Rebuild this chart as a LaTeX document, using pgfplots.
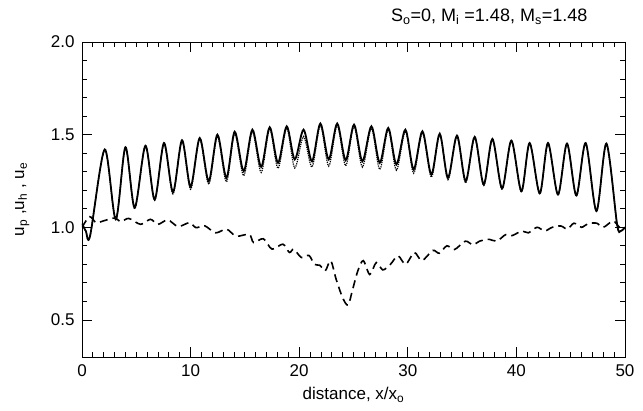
\documentclass[border=0pt]{standalone}
\usepackage{fontspec}
\setmainfont{Liberation Sans}
\usepackage{pgfplots}
\pgfplotsset{compat=1.18}

\pgfplotstableread{
x y
0 1.02
0.35 0.98
0.75 0.955
2.09 1.42
3.11 1.043
4.0 1.432
4.85 1.106
5.84 1.44
6.69 1.15
7.55 1.455
8.38 1.19
9.21 1.47
10.0 1.219
10.84 1.482
11.67 1.249
12.47 1.5
13.3 1.267
14.06 1.516
14.89 1.303
15.69 1.527
16.5 1.326
17.28 1.54
18.05 1.348
18.85 1.545
19.59 1.366
20.4 1.527
21.18 1.356
21.95 1.56
22.72 1.366
23.5 1.56
24.28 1.362
25.05 1.554
25.82 1.356
26.65 1.545
27.42 1.348
28.2 1.536
28.95 1.339
29.78 1.527
30.54 1.312
31.35 1.518
32.17 1.285
32.94 1.505
33.7 1.267
34.53 1.495
35.33 1.249
36.16 1.488
36.99 1.231
37.79 1.477
38.68 1.21
39.54 1.468
40.46 1.195
41.22 1.455
42.15 1.183
42.91 1.455
43.83 1.177
44.66 1.452
45.52 1.172
46.38 1.455
47.37 1.088
48.29 1.452
49.27 1.016
49.6 0.98
50 1.0
}\up

\pgfplotstableread{
x y
0 1.02
0.35 0.98
0.75 0.955
2.09 1.42
3.11 1.043
4.0 1.43
4.85 1.10
5.84 1.44
6.69 1.145
7.55 1.45
8.38 1.18
9.21 1.465
10.0 1.205
10.84 1.475
11.67 1.232
12.47 1.49
13.3 1.245
14.06 1.505
14.89 1.278
15.69 1.515
16.5 1.296
17.28 1.53
18.05 1.318
18.85 1.535
19.59 1.32
20.4 1.49
21.18 1.325
21.95 1.55
22.72 1.33
23.5 1.55
24.28 1.332
25.05 1.545
25.82 1.325
26.65 1.535
27.42 1.312
28.2 1.527
28.95 1.308
29.78 1.518
30.54 1.292
31.35 1.51
32.17 1.27
32.94 1.498
33.7 1.257
34.53 1.49
35.33 1.24
36.16 1.483
36.99 1.225
37.79 1.472
38.68 1.205
39.54 1.465
40.46 1.19
41.22 1.452
42.15 1.18
42.91 1.452
43.83 1.174
44.66 1.45
45.52 1.168
46.38 1.452
47.37 1.085
48.29 1.45
49.27 1.016
49.6 0.98
50 1.0
}\uh

\pgfplotstableread{
x y
0.0 1.00
0.7 1.057
1.3 1.025
2.0 1.035
3.0 1.05
3.6 1.03
4.3 1.048
5.4 1.016
6.3 1.043
7.0 1.016
7.9 1.04
8.85 1.004
9.9 1.025
10.5 0.998
11.3 1.008
12.3 0.97
13.3 0.99
14.2 0.952
15.4 0.962
15.8 0.918
16.7 0.938
17.5 0.882
18.5 0.909
19.1 0.864
19.5 0.882
20.2 0.837
20.9 0.848
21.4 0.80
21.9 0.795
22.4 0.765
22.9 0.82
23.4 0.72
24.0 0.62
24.5 0.58
24.9 0.66
25.4 0.765
25.9 0.82
26.5 0.745
27.1 0.81
27.7 0.77
28.4 0.80
29.1 0.846
29.8 0.80
30.6 0.864
31.3 0.82
32.3 0.875
32.9 0.86
33.6 0.90
34.3 0.88
35.3 0.925
36.0 0.905
36.6 0.925
37.5 0.935
38.2 0.925
39.0 0.96
39.6 0.955
40.5 0.98
41.1 0.97
41.9 1.0
42.6 0.98
43.3 1.0
44.1 1.007
44.7 0.99
45.3 1.022
46.0 1.0
46.6 1.02
47.4 1.022
48.0 1.0
48.9 1.034
49.5 1.0
50 1.0
}\ue

\begin{document}
\begin{tikzpicture}
\begin{axis}[
    width=543pt, height=315pt, scale only axis,
    xmin=0, xmax=50, ymin=0.3, ymax=2.0,
    xtick={0,10,20,30,40,50}, minor x tick num=9,
    ytick={0.5,1.0,1.5,2.0}, minor y tick num=4,
    tick align=inside,
    major tick length=10pt, minor tick length=5pt,
    tick style={black, line width=0.8pt},
    axis line style={line width=0.9pt},
    /pgf/number format/assume math mode=true,
    yticklabel style={xshift=-4pt, /pgf/number format/.cd, fixed, fixed zerofill, precision=1},
    xticklabel style={yshift=-4pt},
    tick label style={font=\fontsize{17}{20}\selectfont},
    label style={font=\fontsize{17}{20}\selectfont},
    xlabel={distance, x/x\textsubscript{o}},
    ylabel={u\textsubscript{p} ,u\textsubscript{h} , u\textsubscript{e}},
    xlabel style={at={(axis description cs:0.5,-0.12)}, anchor=center},
    ylabel style={at={(axis description cs:-0.11,0.5)}, anchor=center},
    clip mode=individual,
]
\addplot[black, line width=1.2pt, densely dotted, smooth] table {\uh};
\addplot[black, line width=1.8pt, smooth] table {\up};
\addplot[black, line width=1.6pt, dash pattern=on 8pt off 5pt, smooth] table {\ue};
\node[font=\fontsize{18}{20}\selectfont] at (axis description cs:0.75,1.08)
    {S\textsubscript{o}=0, M\textsubscript{i} =1.48, M\textsubscript{s}=1.48};
\end{axis}
\path (current axis.south west) ++(-82pt,-54pt) rectangle ++(643pt,411pt);
\end{tikzpicture}
\end{document}
